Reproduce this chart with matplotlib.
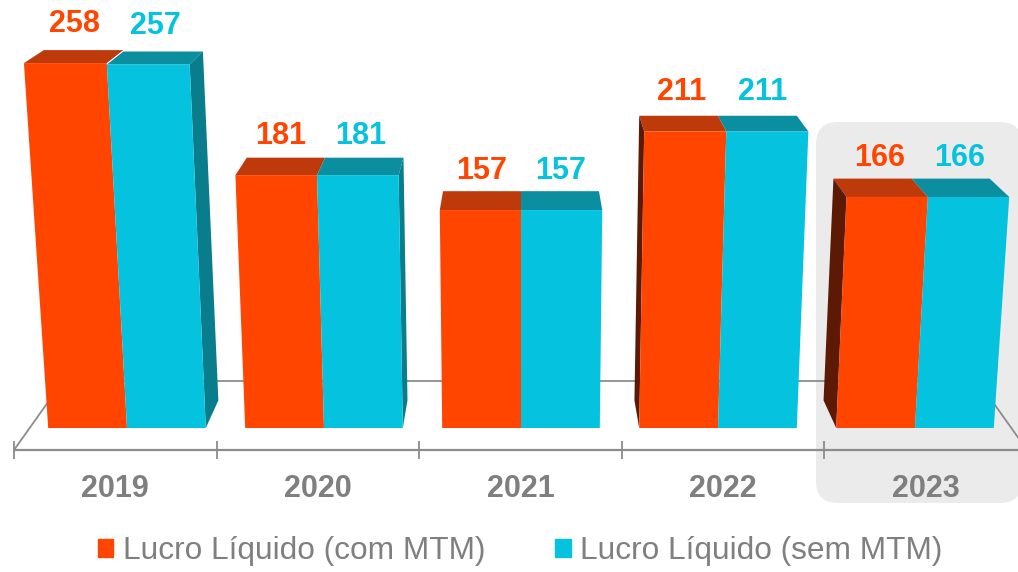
import matplotlib
matplotlib.use("Agg")
import matplotlib.pyplot as plt
from matplotlib.patches import Polygon, FancyBboxPatch, Patch

plt.rcParams['font.family'] = ['Liberation Sans', 'DejaVu Sans']

# data
years = ['2019', '2020', '2021', '2022', '2023']
com_mtm = [258, 181, 157, 211, 166]
sem_mtm = [257, 181, 157, 211, 166]
labels = ['Lucro Líquido (com MTM)', 'Lucro Líquido (sem MTM)']

# colours
ORANGE = '#FF4500'
ORANGE_TOP = '#BF3A0A'
ORANGE_SIDE = '#5C1A05'
CYAN = '#05C3DE'
CYAN_TOP = '#0A8EA0'
CYAN_SIDE = '#0A7D8C'
GREY = '#7F7F7F'
LINE = '#8C8C8C'

# pixel geometry (axes fills the figure)
W, H = 1018, 572
X0, PX_X = 127, 197.0      # bar base: px of first category, px per category
Y0, PX_Y = 438.5, 1.455    # px of value zero (from top), px per value unit
BASE = 428                 # px where the bars meet the floor
VP = (520.0, -262.0)       # vanishing point for depth
K_BAR = 0.04               # depth of bars
K_FLOOR = 0.097            # depth of floor
LEAN = 1.41e-4             # convergence of vertical edges
FRONT_STEP = 202.6         # px per category on the floor front edge
FRONT_LEFT = 14

bw = 0.4


def to_px(x, y):
    return X0 + x * PX_X, Y0 - y * PX_Y


def to_data(px, py):
    return (px - X0) / PX_X, (Y0 - py) / PX_Y


def back(px, py, k):
    return px + k * (VP[0] - px), py + k * (VP[1] - py)


def lean(px, ytop):
    return px + LEAN * (px - VP[0]) * (BASE - ytop)


fig = plt.figure(figsize=(W / 100, H / 100), dpi=100)
ax = fig.add_axes([0, 0, 1, 1])
ax.set_xlim(*[to_data(p, 0)[0] for p in (0, W)])
ax.set_ylim(to_data(0, H)[1], to_data(0, 0)[1])
ax.axis('off')

n = len(years)

# highlight of last year
hx0, hy0 = to_data(816, 503)
hx1, hy1 = to_data(1022, 122)
ax.add_patch(FancyBboxPatch((hx0, hy0), hx1 - hx0, hy1 - hy0,
                            boxstyle='round,pad=0,rounding_size=%f' % (22 / PX_X),
                            mutation_aspect=PX_X / PX_Y,
                            fc='#EBEBEB', ec='none', zorder=0))

# floor
fl = (FRONT_LEFT, 450.0)
fr = (FRONT_LEFT + FRONT_STEP * n, 450.0)
bl = back(*fl, K_FLOOR)
br = back(*fr, K_FLOOR)
for p, q, lw in [(fl, fr, 1.6), (bl, br, 1.3), (fl, bl, 1.3), (fr, br, 1.3)]:
    a, b = to_data(*p), to_data(*q)
    ax.plot([a[0], b[0]], [a[1], b[1]], color=LINE, lw=lw, zorder=1, solid_capstyle='butt')
tick_x = [to_data(FRONT_LEFT + FRONT_STEP * j, 0)[0] for j in range(n + 1)]
ax.vlines(tick_x, to_data(0, 459)[1], to_data(0, 441)[1], color=LINE, lw=1.3, zorder=1)

# bars
for i in range(n):
    for j, (vals, col, top_c, side_c) in enumerate([(com_mtm, ORANGE, ORANGE_TOP, ORANGE_SIDE),
                                                     (sem_mtm, CYAN, CYAN_TOP, CYAN_SIDE)]):
        v = vals[i]
        left = i - bw if j == 0 else i
        right = left + bw
        lb, rb = to_px(left, 0)[0], to_px(right, 0)[0]
        ytop = to_px(0, v)[1]
        lt, rt = lean(lb, ytop), lean(rb, ytop)
        front = [(lb, BASE), (rb, BASE), (rt, ytop), (lt, ytop)]
        top = [(lt, ytop), (rt, ytop), back(rt, ytop, K_BAR), back(lt, ytop, K_BAR)]
        ax.add_patch(Polygon([to_data(*p) for p in front], closed=True, fc=col, ec='none', zorder=3))
        ax.add_patch(Polygon([to_data(*p) for p in top], closed=True, fc=top_c, ec='none', zorder=2))
        if j == 1 and rt < VP[0] - 10:
            side = [(rb, BASE), (rt, ytop), back(rt, ytop, K_BAR), back(rb, BASE, K_BAR)]
            ax.add_patch(Polygon([to_data(*p) for p in side], closed=True, fc=side_c, ec='none', zorder=2))
        if j == 0 and lt > VP[0] + 10:
            side = [(lb, BASE), (lt, ytop), back(lt, ytop, K_BAR), back(lb, BASE, K_BAR)]
            ax.add_patch(Polygon([to_data(*p) for p in side], closed=True, fc=side_c, ec='none', zorder=2))
        bx = back((lt + rt) / 2, ytop, K_BAR)[0]
        cx = ((lt + rt) / 2 + bx) / 2
        ax.text(*to_data(cx, ytop - 39), str(v), ha='center', va='center',
                fontsize=22, fontweight='bold', color=col, zorder=4)

# year labels
for i, y in enumerate(years):
    ax.text(*to_data(FRONT_LEFT + FRONT_STEP * (i + 0.5), 489), y, ha='center', va='center',
            fontsize=22, fontweight='bold', color=GREY, zorder=4)

handles = [Patch(color=ORANGE, label=labels[0]), Patch(color=CYAN, label=labels[1])]
fig.legend(handles=handles, loc='center', bbox_to_anchor=(0.511, 0.036), ncol=2,
           frameon=False, fontsize=22.8, labelcolor=GREY, handlelength=0.5,
           handleheight=0.5, handletextpad=0.3, columnspacing=2.2)

fig.savefig('out.png', dpi=100)
